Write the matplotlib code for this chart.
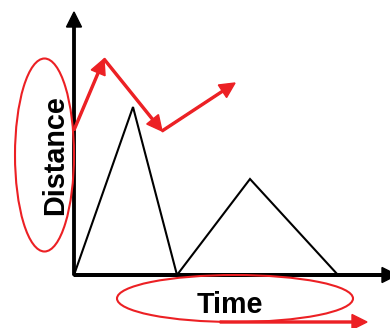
import matplotlib
matplotlib.use("Agg")
from matplotlib import pyplot as plt
from matplotlib.patches import Ellipse

# distance-time trace (black)
time = [0, 59, 103, 176, 264]
distance = [0, 168, 0, 96, 0]

# red zig-zag arrows next to the distance axis
zig_t = [0, 30, 88, 161]
zig_d = [145, 216, 144, 192]

# red arrow under the time label
under_t = [146, 293]
under_d = [-47, -47]

red = '#ec2024'
plt.rcParams['font.family'] = ['Liberation Sans', 'DejaVu Sans']

fig = plt.figure(figsize=(3.9, 3.28), dpi=100)
ax = fig.add_axes([0, 0, 1, 1])
ax.set_xlim(-74, 316)
ax.set_ylim(-53, 275)
ax.axis('off')

# axes with arrow heads
ax.arrow(0, 0, 0, 263, width=2.4, head_width=15, head_length=15,
         length_includes_head=True, color='black', zorder=3)
ax.arrow(0, 0, 323, 0, width=2.6, head_width=15, head_length=15,
         length_includes_head=True, color='black', zorder=3)

ax.plot(time, distance, color='black', lw=1.5, solid_joinstyle='miter', zorder=2)

for i in range(len(zig_t) - 1):
    ax.arrow(zig_t[i], zig_d[i], zig_t[i+1] - zig_t[i], zig_d[i+1] - zig_d[i],
             width=2, head_width=15, head_length=15, length_includes_head=True,
             color=red, zorder=4)
ax.arrow(under_t[0], under_d[0], under_t[1] - under_t[0], 0,
         width=2, head_width=15, head_length=15, length_includes_head=True,
         color=red, zorder=4)

ax.add_patch(Ellipse((-29.5, 120), 59, 193, fill=False, ec=red, lw=1.5, zorder=4))
ax.add_patch(Ellipse((161, -23.5), 236, 47, fill=False, ec=red, lw=1.5, zorder=4))

ax.text(-11, 120, 'Distance', rotation=90, rotation_mode='anchor',
        ha='center', va='baseline', fontsize=20.7, fontweight='bold')
ax.text(156, -38, 'Time', ha='center', va='baseline',
        fontsize=20.7, fontweight='bold')

fig.savefig('out.png', dpi=100)
